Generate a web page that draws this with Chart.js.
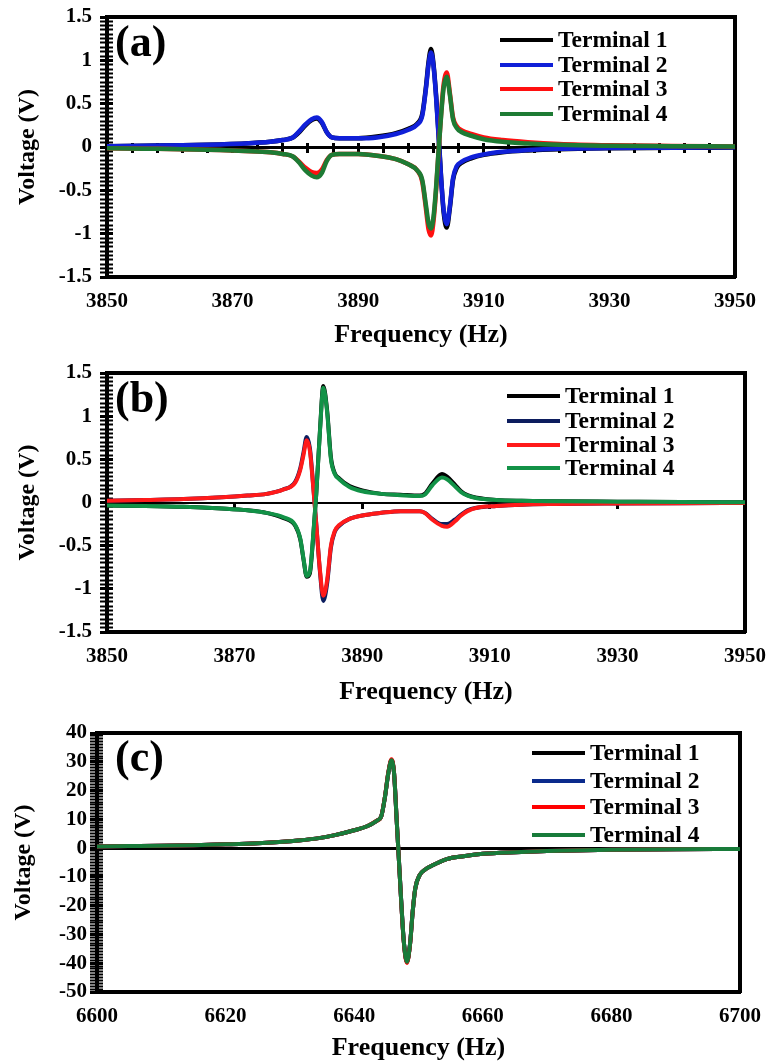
<!DOCTYPE html>
<html>
<head>
<meta charset="utf-8">
<title>Terminal voltage spectra</title>
<script src="https://cdn.jsdelivr.net/npm/chart.js@4.4.1/dist/chart.umd.min.js"></script>
<style>
  html, body { margin: 0; padding: 0; background: #fff; }
  body { position: relative; width: 771px; height: 1064px; overflow: hidden; }
  canvas { position: absolute; left: 0; display: block; }
</style>
</head>
<body>
<canvas id="panelA" width="771" height="355" style="top:0px"></canvas>
<canvas id="panelB" width="771" height="357" style="top:355px"></canvas>
<canvas id="panelC" width="771" height="352" style="top:712px"></canvas>
<script>
const terminalLabels = ['Terminal 1', 'Terminal 2', 'Terminal 3', 'Terminal 4'];

//panel (a)
const freqRangeA = [3850, 3950];
const voltRangeA = [-1.5, 1.5];
const freqA = [3850, 3856, 3862, 3868, 3872, 3876, 3878, 3879.6, 3880.6, 3881.6,
  3882.6, 3883.4, 3884.2, 3885, 3885.8, 3887, 3890, 3893, 3896, 3898,
  3899.4, 3900.2, 3900.8, 3901.2, 3901.6, 3902, 3902.4, 3902.8, 3903.2, 3903.6,
  3904.1, 3904.6, 3905.1, 3905.7, 3906.5, 3908, 3910, 3913, 3917, 3922,
  3930, 3940, 3950];
const voltA1 = [0.01, 0.015, 0.02, 0.03, 0.04, 0.06, 0.08, 0.11, 0.17, 0.25,
  0.31, 0.33, 0.28, 0.17, 0.11, 0.1, 0.1, 0.12, 0.16, 0.21,
  0.27, 0.38, 0.7, 0.98, 1.13, 0.95, 0.6, 0.15, -0.35, -0.75,
  -0.93, -0.7, -0.38, -0.24, -0.18, -0.13, -0.09, -0.06, -0.04, -0.025,
  -0.015, -0.01, -0.005];
const voltA2 = [0.01, 0.015, 0.02, 0.03, 0.04, 0.06, 0.08, 0.11, 0.18, 0.26,
  0.32, 0.34, 0.29, 0.17, 0.11, 0.1, 0.1, 0.11, 0.15, 0.2,
  0.26, 0.36, 0.68, 0.95, 1.09, 0.93, 0.58, 0.12, -0.36, -0.72,
  -0.89, -0.68, -0.36, -0.22, -0.17, -0.12, -0.085, -0.055, -0.035, -0.02,
  -0.012, -0.008, -0.004];
const voltA3 = [-0.015, -0.02, -0.025, -0.035, -0.045, -0.06, -0.08, -0.11, -0.17, -0.24,
  -0.29, -0.3, -0.26, -0.15, -0.09, -0.08, -0.08, -0.1, -0.14, -0.2,
  -0.27, -0.4, -0.72, -0.95, -1.02, -0.85, -0.5, -0.05, 0.38, 0.72,
  0.86, 0.62, 0.34, 0.24, 0.19, 0.15, 0.11, 0.08, 0.055, 0.035,
  0.02, 0.012, 0.006];
const voltA4 = [-0.015, -0.02, -0.025, -0.035, -0.045, -0.06, -0.08, -0.11, -0.18, -0.27,
  -0.33, -0.35, -0.3, -0.16, -0.09, -0.08, -0.08, -0.1, -0.14, -0.2,
  -0.27, -0.38, -0.68, -0.88, -0.94, -0.8, -0.47, -0.04, 0.36, 0.68,
  0.81, 0.6, 0.32, 0.22, 0.17, 0.13, 0.09, 0.06, 0.04, 0.025,
  0.015, 0.01, 0.005];

//panel (b)
const freqRangeB = [3850, 3950];
const voltRangeB = [-1.5, 1.5];
const freqB = [3850, 3856, 3862, 3868, 3872, 3875, 3877.6, 3879.5, 3880.3, 3880.8,
  3881.3, 3881.8, 3882.3, 3882.8, 3883.4, 3883.9, 3884.5, 3885.1, 3885.7, 3886.4,
  3888, 3890, 3893, 3896, 3899, 3899.8, 3901, 3902.5, 3903.3, 3904.5,
  3905.5, 3906.5, 3908, 3911, 3915, 3920, 3930, 3940, 3950];
const voltB1 = [-0.035, -0.04, -0.05, -0.07, -0.09, -0.12, -0.18, -0.27, -0.43, -0.66,
  -0.86, -0.82, -0.42, 0.1, 0.86, 1.35, 1.07, 0.52, 0.34, 0.28,
  0.19, 0.14, 0.1, 0.09, 0.08, 0.1, 0.22, 0.33, 0.3, 0.21,
  0.13, 0.085, 0.055, 0.03, 0.02, 0.015, 0.01, 0.005, 0.003];
const voltB2 = [0.02, 0.03, 0.04, 0.06, 0.08, 0.1, 0.15, 0.24, 0.4, 0.58,
  0.76, 0.63, 0.22, -0.25, -0.82, -1.14, -0.94, -0.52, -0.34, -0.27,
  -0.19, -0.15, -0.12, -0.1, -0.1, -0.12, -0.19, -0.25, -0.25, -0.2,
  -0.14, -0.09, -0.06, -0.04, -0.025, -0.018, -0.012, -0.008, -0.005];
const voltB3 = [0.02, 0.03, 0.04, 0.06, 0.08, 0.1, 0.15, 0.23, 0.38, 0.55,
  0.72, 0.6, 0.2, -0.25, -0.8, -1.08, -0.9, -0.5, -0.33, -0.26,
  -0.19, -0.15, -0.12, -0.1, -0.1, -0.12, -0.2, -0.27, -0.28, -0.22,
  -0.15, -0.1, -0.06, -0.04, -0.025, -0.018, -0.012, -0.008, -0.005];
const voltB4 = [-0.035, -0.04, -0.05, -0.07, -0.09, -0.12, -0.17, -0.26, -0.42, -0.65,
  -0.85, -0.8, -0.4, 0.1, 0.85, 1.33, 1.05, 0.5, 0.33, 0.27,
  0.18, 0.13, 0.1, 0.085, 0.075, 0.09, 0.2, 0.29, 0.27, 0.19,
  0.12, 0.08, 0.05, 0.03, 0.02, 0.015, 0.01, 0.005, 0.003];

//panel (c)
const freqRangeC = [6600, 6700];
const voltRangeC = [-50, 40];
const freqC = [6600, 6605, 6610, 6615, 6620, 6625, 6630, 6634, 6637, 6640,
  6642, 6643.5, 6644.2, 6644.8, 6645.3, 6645.8, 6646.2, 6646.6, 6646.9, 6647.3,
  6647.7, 6648.2, 6648.7, 6649.1, 6649.5, 6650.2, 6651, 6652, 6654.4, 6657,
  6660, 6665, 6670, 6680, 6690, 6700];
const voltC1 = [0.6, 0.7, 0.8, 1.0, 1.3, 1.7, 2.4, 3.3, 4.5, 6.2,
  7.6, 9.5, 11, 18, 26, 30.6, 26, 10, -2, -18,
  -32, -39.6, -33, -22, -14, -9.3, -7.5, -6.2, -3.8, -2.8,
  -2.0, -1.4, -1.0, -0.6, -0.4, -0.3];
const voltC2 = [0.6, 0.7, 0.8, 1.0, 1.3, 1.7, 2.4, 3.3, 4.5, 6.2,
  7.6, 9.5, 11, 18, 26, 30.5, 26, 10, -2, -18,
  -32, -39.5, -33, -22, -14, -9.3, -7.5, -6.2, -3.8, -2.8,
  -2.0, -1.4, -1.0, -0.6, -0.4, -0.3];
const voltC3 = [0.6, 0.7, 0.8, 1.0, 1.3, 1.7, 2.4, 3.3, 4.5, 6.2,
  7.6, 9.5, 11, 18.2, 26.3, 30.9, 26.2, 10, -2, -18.2,
  -32.3, -39.9, -33.2, -22, -14, -9.3, -7.5, -6.2, -3.8, -2.8,
  -2.0, -1.4, -1.0, -0.6, -0.4, -0.3];
const voltC4 = [0.6, 0.7, 0.8, 1.0, 1.3, 1.7, 2.4, 3.3, 4.5, 6.2,
  7.6, 9.5, 11, 18, 26, 30.5, 26, 10, -2, -18,
  -32, -39.5, -33, -22, -14, -9.3, -7.5, -6.2, -3.8, -2.8,
  -2.0, -1.4, -1.0, -0.6, -0.4, -0.3];

const serif = '"Liberation Serif", "Times New Roman", serif';
const tickFont = { family: serif, weight: 'bold', size: 21 };
const axisTitleFont = { family: serif, weight: 'bold', size: 26 };
const yTitleFont = { family: serif, weight: 'bold', size: 24 };

Chart.defaults.font.family = serif;
Chart.defaults.color = '#000';

const isMultiple = (v, step) => Math.abs(v / step - Math.round(v / step)) < 1e-6;

/**
 * Returns an afterFit callback that pins a scale box to a fixed size,
 * so every panel keeps the plot area of the original figure.
 */
function fixBox(width, height) {
  return (scale) => {
    if (width !== null) scale.width = width;
    if (height !== null) scale.height = height;
    scale.paddingLeft = 0;
    scale.paddingRight = 0;
    scale.paddingTop = 0;
    scale.paddingBottom = 0;
  };
}

/**
 * Draws the panel tag and the in-plot legend.
 */
function decorPlugin(p) {
  return {
    id: 'decor',
    afterDraw(chart) {
      const { ctx, chartArea } = chart;
      ctx.save();
      ctx.fillStyle = '#000';
      ctx.textBaseline = 'middle';
      ctx.font = 'bold 44px ' + serif;
      ctx.fillText(p.tag, chartArea.left + p.tagDx, chartArea.top + p.tagDy);

      //legend
      ctx.font = 'bold 23.5px ' + serif;
      chart.data.datasets.forEach((ds, i) => {
        const y = p.legend.rows[i];
        ctx.strokeStyle = ds.borderColor;
        ctx.lineWidth = 4;
        ctx.beginPath();
        ctx.moveTo(p.legend.x, y);
        ctx.lineTo(p.legend.x + 53, y);
        ctx.stroke();
        ctx.fillStyle = '#000';
        ctx.fillText(ds.label, p.legend.x + 58, y + 1);
      });
      ctx.restore();
    },
  };
}

/**
 * Builds one panel of the figure.
 */
function makePanel(canvasId, p) {
  const [xMin, xMax] = p.xRange;
  const [yMin, yMax] = p.yRange;

  const scales = {
    x: {
      type: 'linear',
      position: 'bottom',
      min: xMin,
      max: xMax,
      ticks: {
        stepSize: 20,
        autoSkip: false,
        maxRotation: 0,
        padding: 12,
        color: '#000',
        font: tickFont,
        callback: (v) => String(v),
      },
      grid: { drawOnChartArea: false, drawTicks: false },
      border: { color: '#000', width: 4 },
      title: {
        display: true,
        text: 'Frequency (Hz)',
        color: '#000',
        font: axisTitleFont,
        padding: { top: 0, bottom: p.xTitlePad },
      },
      afterFit: fixBox(null, p.xHeight),
    },
    xTop: {
      axis: 'x',
      type: 'linear',
      position: 'top',
      min: xMin,
      max: xMax,
      ticks: { display: false },
      grid: { drawOnChartArea: false, drawTicks: false },
      border: { color: '#000', width: 4 },
      afterFit: fixBox(null, 0),
    },
    x0: {
      axis: 'x',
      type: 'linear',
      position: { y: 0 },
      min: xMin,
      max: xMax,
      ticks: { display: false, stepSize: p.zero.step, autoSkip: false },
      grid: {
        drawOnChartArea: false,
        drawTicks: p.zero.len > 0,
        tickLength: p.zero.len,
        tickWidth: 3,
        tickColor: '#000',
      },
      border: { color: '#000', width: p.zero.width },
      afterFit: fixBox(null, 0),
    },
    y: {
      type: 'linear',
      position: 'left',
      min: yMin,
      max: yMax,
      ticks: {
        stepSize: p.yMinor,
        autoSkip: false,
        padding: p.yTickPad,
        color: '#000',
        font: tickFont,
        callback: (v) => (isMultiple(v, p.yMajor) ? String(Math.round(v * 10) / 10) : ''),
      },
      grid: {
        drawOnChartArea: false,
        drawTicks: true,
        tickLength: 7,
        tickColor: '#000',
        tickWidth: (ctx) => (ctx.tick && isMultiple(ctx.tick.value, p.yMajor) ? 3 : 2),
      },
      border: { color: '#000', width: 4 },
      title: {
        display: true,
        text: 'Voltage (V)',
        color: '#000',
        font: yTitleFont,
        padding: { top: p.yTitlePad, bottom: 0 },
      },
      afterFit: fixBox(p.yWidth, null),
    },
    yIn: {
      axis: 'y',
      type: 'linear',
      position: { x: xMin },
      min: yMin,
      max: yMax,
      ticks: { display: false, stepSize: p.yMinor, autoSkip: false },
      grid: {
        drawOnChartArea: false,
        drawTicks: true,
        tickLength: -6,
        tickColor: '#000',
        tickWidth: (ctx) => (ctx.tick && isMultiple(ctx.tick.value, p.yMajor) ? 3 : 2),
      },
      border: { display: false },
      afterFit: fixBox(0, null),
    },
    yR: {
      axis: 'y',
      type: 'linear',
      position: 'right',
      min: yMin,
      max: yMax,
      ticks: { display: false },
      grid: { drawOnChartArea: false, drawTicks: false },
      border: { color: '#000', width: 4 },
      afterFit: fixBox(0, null),
    },
  };

  //ticks on both sides of the zero line
  if (p.zero.both) {
    scales.x0u = {
      axis: 'x',
      type: 'linear',
      position: { y: 0 },
      min: xMin,
      max: xMax,
      ticks: { display: false, stepSize: p.zero.step, autoSkip: false },
      grid: {
        drawOnChartArea: false,
        drawTicks: true,
        tickLength: -p.zero.len,
        tickWidth: 3,
        tickColor: '#000',
      },
      border: { display: false },
      afterFit: fixBox(null, 0),
    };
  }

  return new Chart(document.getElementById(canvasId), {
    type: 'line',
    data: {
      datasets: p.series.map((vals, i) => ({
        label: terminalLabels[i],
        data: p.freq.map((f, j) => ({ x: f, y: vals[j] })),
        borderColor: p.colors[i],
        backgroundColor: p.colors[i],
        borderWidth: p.lineWidth,
        pointRadius: 0,
        cubicInterpolationMode: 'monotone',
        fill: false,
        order: p.series.length - 1 - i,
        xAxisID: 'x',
        yAxisID: 'y',
      })),
    },
    options: {
      responsive: false,
      animation: false,
      layout: { padding: { left: 0, right: p.padRight, top: p.padTop, bottom: 0 } },
      plugins: { legend: { display: false }, tooltip: { enabled: false } },
      scales,
    },
    plugins: [decorPlugin(p)],
  });
}

makePanel('panelA', {
  tag: '(a)', tagDx: 8, tagDy: 28,
  freq: freqA,
  series: [voltA1, voltA2, voltA3, voltA4],
  colors: ['#000000', '#1020d8', '#ff1010', '#1e7b34'],
  lineWidth: 4.5,
  xRange: freqRangeA, yRange: voltRangeA, yMajor: 0.5, yMinor: 0.05,
  zero: { step: 4, len: 4, width: 3, both: true },
  yWidth: 107, padRight: 36, padTop: 17, xHeight: 78,
  yTickPad: 8, yTitlePad: 13, xTitlePad: 4,
  legend: { x: 500, rows: [40, 65, 89, 114] },
});

makePanel('panelB', {
  tag: '(b)', tagDx: 8, tagDy: 28,
  freq: freqB,
  series: [voltB1, voltB2, voltB3, voltB4],
  colors: ['#000000', '#0c1d5e', '#ff1a1a', '#129247'],
  lineWidth: 4,
  xRange: freqRangeB, yRange: voltRangeB, yMajor: 0.5, yMinor: 0.05,
  zero: { step: 20, len: 5, width: 2, both: false },
  yWidth: 107, padRight: 26, padTop: 18, xHeight: 80,
  yTickPad: 8, yTitlePad: 13, xTitlePad: 4,
  legend: { x: 507, rows: [41, 66, 90, 113] },
});

makePanel('panelC', {
  tag: '(c)', tagDx: 18, tagDy: 27,
  freq: freqC,
  series: [voltC1, voltC2, voltC3, voltC4],
  colors: ['#000000', '#0a2a8c', '#ff0000', '#187b3a'],
  lineWidth: 4,
  xRange: freqRangeC, yRange: voltRangeC, yMajor: 10, yMinor: 1,
  zero: { step: 20, len: 0, width: 3, both: false },
  yWidth: 97, padRight: 31, padTop: 21, xHeight: 72,
  yTickPad: 3, yTitlePad: 9, xTitlePad: 0,
  legend: { x: 532, rows: [41, 69, 95, 123] },
});
</script>
</body>
</html>
